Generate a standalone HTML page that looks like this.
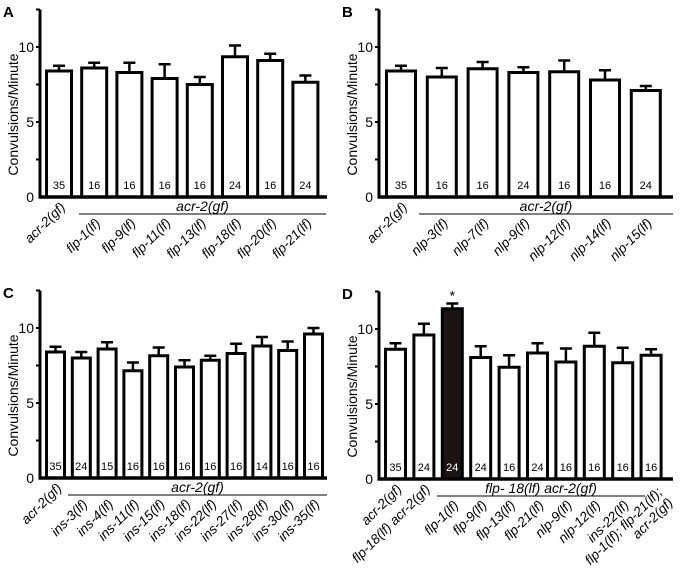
<!DOCTYPE html>
<html><head><meta charset="utf-8"><style>
html,body{margin:0;padding:0;background:#fff;}
svg{display:block;font-family:"Liberation Sans",Arial,sans-serif;}
</style></head><body>
<svg id="fig" width="681" height="571" viewBox="0 0 681 571"></svg>
<script>
// Panel A data
const catsA = ["acr-2(gf)","flp-1(lf)","flp-9(lf)","flp-11(lf)","flp-13(lf)","flp-18(lf)","flp-20(lf)","flp-21(lf)"];
const valsA = [8.4,8.6,8.3,7.9,7.5,9.35,9.1,7.65];
const errsA = [0.35,0.35,0.65,0.95,0.5,0.75,0.45,0.45];
const nA = ["35","16","16","16","16","24","16","24"];
// Panel B data
const catsB = ["acr-2(gf)","nlp-3(lf)","nlp-7(lf)","nlp-9(lf)","nlp-12(lf)","nlp-14(lf)","nlp-15(lf)"];
const valsB = [8.4,8.0,8.55,8.3,8.35,7.8,7.1];
const errsB = [0.35,0.6,0.45,0.35,0.75,0.65,0.3];
const nB = ["35","16","16","24","16","16","24"];
// Panel C data
const catsC = ["acr-2(gf)","ins-3(lf)","ins-4(lf)","ins-11(lf)","ins-15(lf)","ins-18(lf)","ins-22(lf)","ins-27(lf)","ins-28(lf)","ins-30(lf)","ins-35(lf)"];
const valsC = [8.4,8.0,8.6,7.15,8.15,7.4,7.85,8.3,8.8,8.5,9.6];
const errsC = [0.35,0.4,0.45,0.55,0.55,0.45,0.3,0.65,0.6,0.6,0.4];
const nC = ["35","24","15","16","16","16","16","16","14","16","16"];
// Panel D data
const catsD = ["acr-2(gf)","flp-18(lf) acr-2(gf)","flp-1(lf)","flp-9(lf)","flp-13(lf)","flp-21(lf)","nlp-9(lf)","nlp-12(lf)","ins-22(lf)","flp-1(lf); flp-21(lf);|acr-2(gf)"];
const valsD = [8.65,9.6,11.35,8.1,7.45,8.4,7.8,8.85,7.75,8.25];
const errsD = [0.4,0.75,0.35,0.75,0.8,0.65,0.9,0.9,1.0,0.4];
const nD = ["35","24","24","24","16","24","16","16","16","16"];
const yTicks = [0,5,10];

const NS="http://www.w3.org/2000/svg";
const svg=document.getElementById('fig');
function mk(tag,attrs,parent){const e=document.createElementNS(NS,tag);for(const k in attrs)e.setAttribute(k,attrs[k]);(parent||svg).appendChild(e);return e;}

function panel(cfg){
  const g=mk('g',{});
  
  
  const y=v=>cfg.y0-v*15;
  const x=i=>cfg.first+i*cfg.pitch;
  const L=mk('text',{x:cfg.ax-37,y:cfg.y0-180,'font-size':15,'font-weight':'bold'},g);L.textContent=cfg.letter;
  
  
  const yt=mk('text',{x:0,y:0,'font-size':14,'text-anchor':'middle',transform:`translate(${cfg.ax-22},${y(5.5)}) rotate(-90)`},g);
  yt.textContent='Convulsions/Minute';
  
  
  yTicks.forEach(t=>{
    const tl=mk('text',{x:cfg.ax-6,y:y(t)+5,'font-size':14,'text-anchor':'end'},g);tl.textContent=t;
    
    
  });
  [2.5,5,7.5,10,12.5].forEach(t=>mk('line',{x1:cfg.ax-4,x2:cfg.ax,y1:y(t),y2:y(t),stroke:'#000','stroke-width':2},g));
  cfg.vals.forEach((v,i)=>{
    const isDark = cfg.dark===i;
    const r=mk('rect',{x:x(i)+1.5,y:y(v),width:cfg.w-3,height:y(0)-y(v),fill:(isDark?'#1a1414':'#fff'),stroke:'#000','stroke-width':3},g);
    
    
    const cx=x(i)+cfg.w/2, ye=y(v+cfg.errs[i]);
    mk('line',{x1:cx,x2:cx,y1:y(v),y2:ye,stroke:'#000','stroke-width':2.5},g);
    mk('line',{x1:cx-6,x2:cx+6,y1:ye,y2:ye,stroke:'#000','stroke-width':2.5},g);
    const nt=mk('text',{x:cx,y:cfg.y0-8,'font-size':11,'text-anchor':'middle',fill:(isDark?'#fff':'#000')},g);
    nt.textContent=cfg.ns[i];
    
    
    const parts=cfg.cats[i].split('|');
    const above=cfg.above.includes(i);
    let lx=cx+7, ly=cfg.y0+(above?11:27);
    if(parts.length>1){lx=cx+12; ly=cfg.y0+14;}
    parts.forEach((p,k)=>{
      const ct=mk('text',{x:0,y:k*15,'font-size':13.5,'font-style':'italic','text-anchor':'end',transform:`translate(${lx},${ly}) rotate(-45)`},g);
      ct.textContent=p;
      
      
    });
  });
  mk('line',{x1:cfg.ax,x2:cfg.ax,y1:cfg.y0+1.5,y2:y(12.5),stroke:'#000','stroke-width':3},g);
  mk('line',{x1:cfg.ax-1.5,x2:cfg.xend,y1:cfg.y0,y2:cfg.y0,stroke:'#000','stroke-width':3.5},g);
  mk('line',{x1:cfg.g1,x2:cfg.g2,y1:cfg.y0+17,y2:cfg.y0+17,stroke:'#000','stroke-width':1},g);
  const gt=mk('text',{x:(cfg.g1+cfg.g2)/2,y:cfg.y0+14,'font-size':14,'font-style':'italic','text-anchor':'middle'},g);
  gt.textContent=cfg.group;
  
  
}
panel({letter:'A',cats:catsA,vals:valsA,errs:errsA,ns:nA,ax:40,y0:197,first:45,pitch:35.2,w:28,xend:327,g1:79,g2:326,group:'acr-2(gf)',above:[0],dark:-1});
panel({letter:'B',cats:catsB,vals:valsB,errs:errsB,ns:nB,ax:379,y0:197,first:385,pitch:40.8,w:32,xend:673,g1:419,g2:673,group:'acr-2(gf)',above:[0],dark:-1});
panel({letter:'C',cats:catsC,vals:valsC,errs:errsC,ns:nC,ax:40,y0:478,first:45,pitch:25.8,w:21,xend:327,g1:68,g2:327,group:'acr-2(gf)',above:[0],dark:-1});
panel({letter:'D',cats:catsD,vals:valsD,errs:errsD,ns:nD,ax:379,y0:479,first:384,pitch:28.4,w:23,xend:673,g1:437,g2:645,group:'flp- 18(lf) acr-2(gf)',above:[0,1],dark:2});
const ast=mk('text',{x:0,y:0,'font-size':14,'text-anchor':'middle'});
ast.setAttribute('x',384+2*28.4+11.5);
ast.setAttribute('y',479-(valsD[2]+errsD[2])*15-3);
ast.textContent='*';


</script>
</body></html>
